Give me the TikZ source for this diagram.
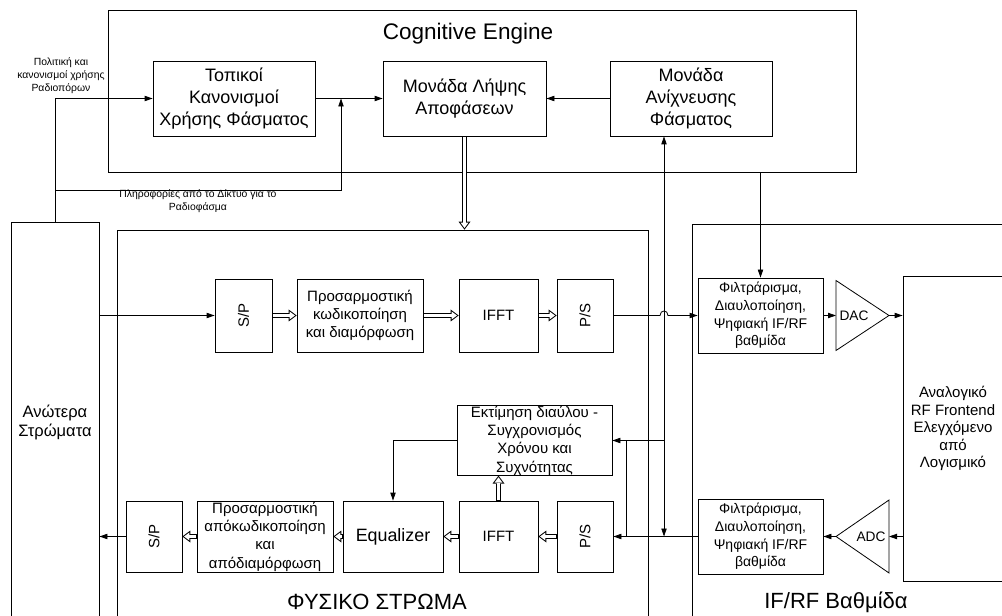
\documentclass[tikz,border=0pt]{standalone}
\usepackage{fontspec}
\setmainfont{Liberation Sans}
\usetikzlibrary{arrows.meta}

\begin{document}
\begin{tikzpicture}[x=0.75pt,y=-0.75pt,
		box/.style={draw,inner sep=0pt,align=center,line width=0.6pt},
		dims/.style 2 args={minimum width=#1*0.75pt,minimum height=#2*0.75pt},
		sig/.style={-{Triangle[length=6pt,width=4pt]},line width=0.6pt},
		dbl/.style={line width=4.2pt,-{Triangle[length=6pt,width=9pt,line width=0pt]},
			postaction={draw=white,line width=2.4pt,shorten <=0.4pt,shorten >=1.25pt,
				-{Triangle[length=4pt,width=6pt,line width=0pt]}}},
		big/.style={font=\fontsize{13.5}{16.5}\selectfont},
		mid/.style={font=\fontsize{11.25}{13.75}\selectfont},
		sml/.style={font=\fontsize{7.8}{9.75}\selectfont},
		huge/.style={font=\fontsize{16.5}{19}\selectfont}]
		\useasboundingbox (0,0) rectangle (1002,616);

		% frames
		\node[box,dims={748}{162}] (cog) at (482,91) {};
		\node[font=\fontsize{16.9}{20}\selectfont] (cogtitle) at (468,34) {Cognitive Engine};
		\node[box,dims={88}{400},font=\fontsize{12.4}{14.25}\selectfont] (upper) at (55,422) {Ανώτερα\\Στρώματα};
		\node[box,dims={531}{400}] (phy) at (382.5,430) {};
		\node[box,dims={320}{410}] (ifrf) at (852,429) {};
		\node[huge] (phytitle) at (377,602) {ΦΥΣΙΚΟ ΣΤΡΩΜΑ};
		\node[huge] (ifrftitle) at (836,602) {IF/RF Βαθμίδα};

		% cognitive engine
		\node[box,big,dims={162}{75}] (rules) at (234,98.5) {Τοπικοί\\Κανονισμοί\\Χρήσης Φάσματος};
		\node[box,big,dims={163}{75}] (decide) at (464.5,98.5) {Μονάδα Λήψης\\Αποφάσεων};
		\node[box,big,dims={162}{75}] (sense) at (691,98.5) {Μονάδα\\Ανίχνευσης\\Φάσματος};

		% transmit chain
		\node[box,mid,dims={57}{73}] (sp1) at (243.5,315.5) {\rotatebox{90}{S/P}};
		\node[box,mid,dims={126}{73}] (enc) at (360,315.5) {Προσαρμοστική\\κωδικοποίηση\\και διαμόρφωση};
		\node[box,mid,dims={79}{73}] (ifft1) at (498.5,315.5) {IFFT};
		\node[box,mid,dims={56}{73}] (ps1) at (585,315.5) {\rotatebox{90}{P/S}};
		\node[box,dims={125}{75},font=\fontsize{10.5}{13.3}\selectfont] (filt1) at (760.5,315.5) {Φιλτράρισμα,\\Διαυλοποίηση,\\Ψηφιακή IF/RF\\βαθμίδα};
		\coordinate (dacin) at (836,315.5);
		\coordinate (dacout) at (889,315.5);
		\draw[line width=0.6pt] (836,280.5) -- (dacout) -- (836,350.5) -- cycle;
		\node[font=\fontsize{10.3}{12}\selectfont] (daclbl) at (854,315.5) {DAC};

		% receive chain
		\node[box,mid,dims={56}{71}] (sp2) at (154,536.5) {\rotatebox{90}{S/P}};
		\node[box,mid,dims={136}{71}] (dec) at (265,536.5) {Προσαρμοστική\\απόκωδικοποίηση\\και\\απόδιαμόρφωση};
		\node[box,dims={100}{71},font=\fontsize{13.4}{16}\selectfont] (eq) at (393,536.5) {Equalizer};
		\node[box,mid,dims={79}{71}] (ifft2) at (498.5,536.5) {IFFT};
		\node[box,mid,dims={56}{71}] (ps2) at (585,536.5) {\rotatebox{90}{P/S}};
		\node[box,dims={125}{75},font=\fontsize{10.5}{13.3}\selectfont] (filt2) at (760.5,536.5) {Φιλτράρισμα,\\Διαυλοποίηση,\\Ψηφιακή IF/RF\\βαθμίδα};
		\coordinate (adcin) at (889,536.5);
		\coordinate (adcout) at (836,536.5);
		\draw[line width=0.6pt] (889,500) -- (adcout) -- (889,573) -- cycle;
		\node[font=\fontsize{10.3}{12}\selectfont] (adclbl) at (871,536.5) {ADC};
		\node[box,mid,dims={155}{69}] (est) at (534.5,440.5) {Εκτίμηση διαύλου -\\Συγχρονισμός\\Χρόνου και\\Συχνότητας};
		\node[box,dims={100}{305},font=\fontsize{11.25}{13.1}\selectfont] (rf) at (953,428.5) {Αναλογικό\\RF Frontend\\Ελεγχόμενο\\από\\Λογισμικό};

		\node[sml,align=center] (policy) at (61,76) {Πολιτική και\\κανονισμοί χρήσης\\Ραδιοπόρων};
		\node[sml,align=center] (netinfo) at (198,201.5) {Πληροφορίες από το Δίκτυο για το\\Ραδιοφάσμα};

		\coordinate (split) at (55,190);
		\coordinate (merge) at (341,98.5);
		\coordinate (br) at (626,536.5);
		\coordinate (tap) at (664,536.5);

		% cognitive engine links
		\draw[sig] (upper.north) |- (rules.west);
		\draw[sig] (split) -| (merge);
		\draw[sig] (rules.east) -- (decide.west);
		\draw[sig] (sense.west) -- (decide.east);
		\draw[dbl] (decide.south) -- (decide.south |- phy.north);
		\draw[sig] (cog.south -| filt1.north) -- (filt1.north);
		\draw[sig,{Triangle[length=6pt,width=4pt]}-{Triangle[length=6pt,width=4pt]}] (tap) -- (tap |- sense.south);

		% transmit
		\draw[sig] (sp1.west -| upper.east) -- (sp1.west);
		\draw[dbl] (sp1.east) -- (enc.west);
		\draw[dbl] (enc.east) -- (ifft1.west);
		\draw[dbl] (ifft1.east) -- (ps1.west);
		\draw[sig] (ps1.east) -- (660,315.5) .. controls (660,309.5) and (668,309.5) .. (668,315.5) -- (filt1.west);
		\draw[sig] (filt1.east) -- (dacin);
		\draw[sig] (dacout) -- (dacout -| rf.west);

		% receive
		\draw[sig] (adcin -| rf.west) -- (adcin);
		\draw[sig] (adcout) -- (adcout -| filt2.east);
		\draw[sig] (filt2.west) -- (ps2.east);
		\draw[dbl] (ps2.west) -- (ifft2.east);
		\draw[dbl] (ifft2.west) -- (eq.east);
		\draw[dbl] (eq.west) -- (dec.east);
		\draw[dbl] (dec.west) -- (sp2.east);
		\draw[sig] (sp2.west) -- (sp2.west -| upper.east);
		\draw[dbl] (ifft2.north) -- (ifft2.north |- est.south);
		\draw[sig] (est.west) -| (eq.north);
		\draw[sig] (br) |- (est.east);
		\draw (br |- est.east) -- (tap |- est.east);
	\end{tikzpicture}
\end{document}
